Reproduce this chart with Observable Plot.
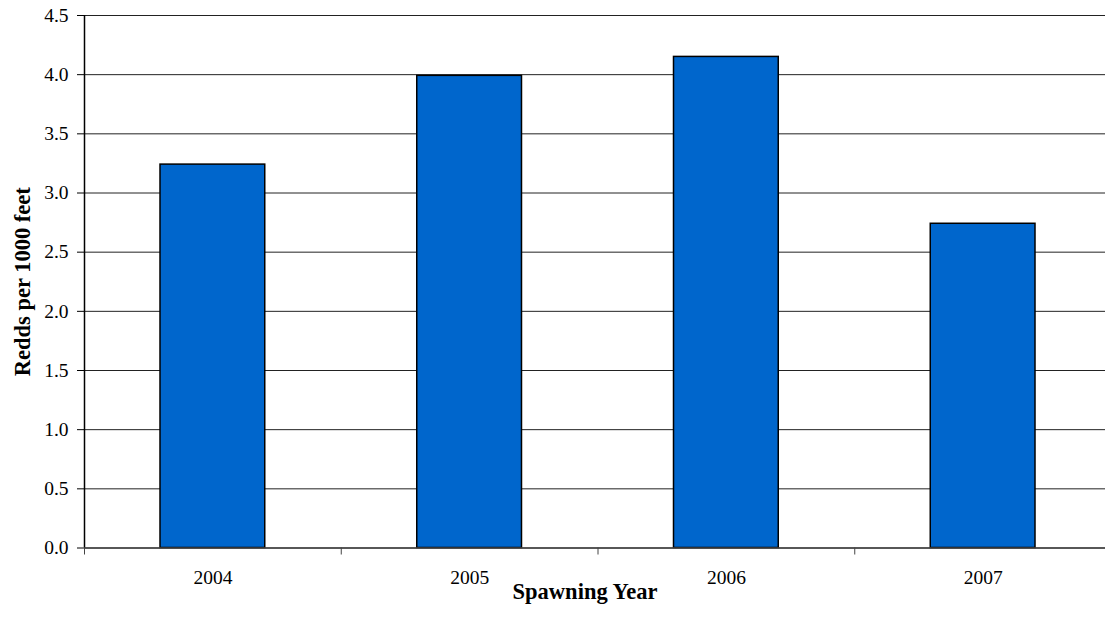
<!DOCTYPE html>
<html>
<head>
<meta charset="utf-8">
<script src="https://cdn.jsdelivr.net/npm/d3@7"></script>
<script src="https://cdn.jsdelivr.net/npm/@observablehq/plot@0.6"></script>
<style>
  html, body { margin: 0; padding: 0; background: #fff; }
  svg { display: block; }
</style>
</head>
<body>
<div id="chart"></div>
<script>
const categories = ["2004", "2005", "2006", "2007"];
const values = [3.24, 3.99, 4.15, 2.74];
const yTicks = [0, 0.5, 1.0, 1.5, 2.0, 2.5, 3.0, 3.5, 4.0, 4.5];
const xTitle = "Spawning Year";
const yTitle = "Redds per 1000 feet";

const rows = categories.map((c, i) => ({year: c, idx: i, value: values[i]}));
const boundaries = d3.range(categories.length + 1);

const font = "Liberation Serif, Times New Roman, serif";

const chart = Plot.plot({
  width: 1105,
  height: 629,
  marginTop: 15,
  marginBottom: 81.5,
  marginLeft: 84,
  marginRight: 0,
  style: {fontFamily: font, background: "#fff", overflow: "visible"},
  x: {domain: [0, categories.length], range: [84, 1111]},
  y: {domain: [0, 4.5]},
  marks: [
    Plot.gridY(yTicks, {stroke: "#222", strokeOpacity: 1, strokeWidth: 1}),
    Plot.rectY(rows, {
      x1: "idx",
      x2: d => d.idx + 1,
      y: "value",
      insetLeft: 76,
      insetRight: 76,
      fill: "#0066CC",
      stroke: "#000",
      strokeWidth: 1.5
    }),
    Plot.ruleY([0], {stroke: "#444", strokeWidth: 1.5}),
    Plot.ruleX([0], {stroke: "#000", strokeWidth: 1.5}),
    Plot.axisY(yTicks, {
      tickSize: 7,
      tickPadding: 9,
      tickFormat: d3.format(".1f"),
      fontSize: 19.5,
      fill: "#000",
      stroke: "#000",
      label: null
    }),
    Plot.axisX(boundaries, {
      tickSize: 7,
      tickFormat: () => "",
      stroke: "#444",
      label: null
    }),
    Plot.text(rows, {
      x: d => d.idx + 0.5,
      text: "year",
      frameAnchor: "bottom",
      lineAnchor: "middle",
      dy: 30,
      fontSize: 19.5,
      fill: "#000"
    }),
    Plot.text([xTitle], {
      frameAnchor: "bottom",
      lineAnchor: "middle",
      textAnchor: "middle",
      dx: -10,
      dy: 44,
      fontSize: 22.5,
      fontWeight: "bold",
      fill: "#000"
    }),
    Plot.text([yTitle], {
      frameAnchor: "left",
      lineAnchor: "middle",
      textAnchor: "middle",
      rotate: -90,
      dx: -62,
      fontSize: 22.5,
      fontWeight: "bold",
      fill: "#000"
    })
  ]
});

document.getElementById("chart").appendChild(chart);
</script>
</body>
</html>
